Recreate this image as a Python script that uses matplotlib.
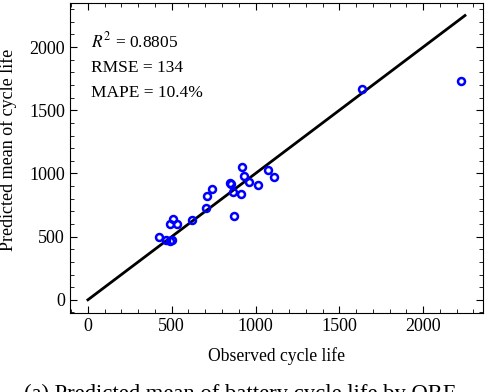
import matplotlib
matplotlib.use("Agg")
import matplotlib.pyplot as plt
from matplotlib.ticker import MultipleLocator

plt.rcParams['font.family'] = ['Liberation Serif', 'DejaVu Serif']
plt.rcParams['mathtext.fontset'] = 'stix'

observed = [426, 466, 491, 501, 491, 507, 533, 622, 705, 711, 741, 850, 854, 868,
            874, 913, 919, 933, 963, 1012, 1072, 1112, 1633, 2229]
predicted = [499, 473, 468, 473, 602, 642, 602, 634, 724, 819, 874, 925, 914, 856,
             666, 838, 1052, 980, 930, 906, 1025, 970, 1667, 1728]
ideal = [0, 2250]
stats = [r"$R^2$ = 0.8805", "RMSE = 134", "MAPE = 10.4%"]

fig = plt.figure(figsize=(4.86, 3.92), dpi=100)
ax = fig.add_axes([0.144, 0.202, 0.850, 0.790])

ax.plot(ideal, ideal, color='black', lw=2)
ax.plot(observed, predicted, 'o', mfc='none', mec='#0000ff', mew=1.8, ms=5)

ax.set_xlim(-107, 2358)
ax.set_ylim(-103, 2348)
ax.xaxis.set_major_locator(MultipleLocator(500))
ax.xaxis.set_minor_locator(MultipleLocator(100))
ax.yaxis.set_major_locator(MultipleLocator(500))
ax.yaxis.set_minor_locator(MultipleLocator(100))
ax.tick_params(which='both', direction='in', top=True, right=True, labelsize=13)
ax.tick_params(which='major', length=5)
ax.tick_params(which='minor', length=2.8)

ax.set_xlabel("Observed cycle life", fontsize=12.7)
ax.set_ylabel("Predicted mean of cycle life", fontsize=13)
ax.xaxis.set_label_coords(0.5, -0.110)
ax.yaxis.set_label_coords(-0.128, 0.525)

ys = [0.858, 0.777, 0.697]
for s, y in zip(stats, ys):
    ax.text(0.051, y, s, transform=ax.transAxes, fontsize=12.5,
            va='baseline', ha='left')

fig.text(0.494, 0.021, "(a) Predicted mean of battery cycle life by QRF",
         ha='center', va='top', fontsize=16.3)

fig.savefig("out.png", dpi=100)
